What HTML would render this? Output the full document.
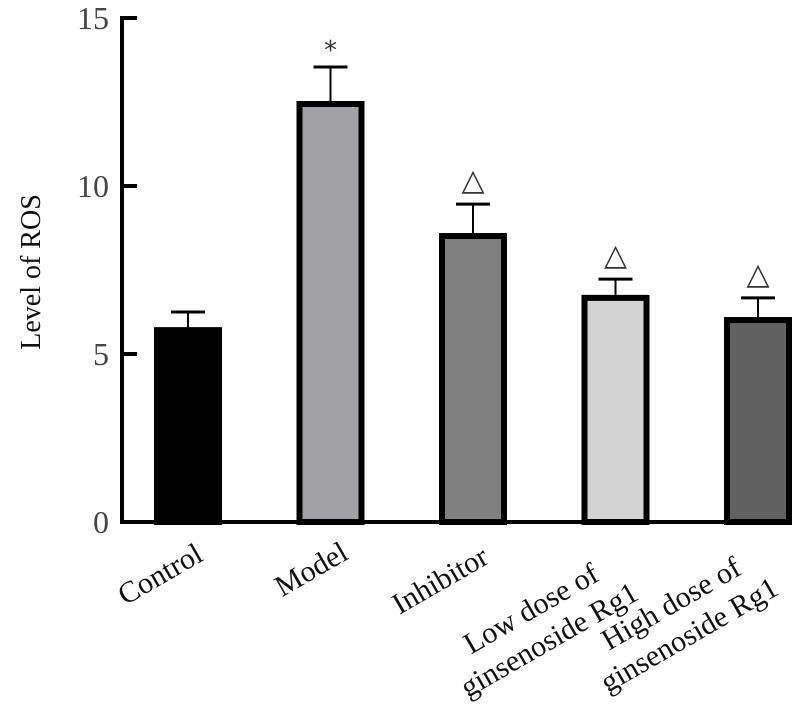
<!DOCTYPE html>
<html><head><meta charset="utf-8"><style>
html,body{margin:0;padding:0;background:#fff;}
svg{display:block;font-family:"Liberation Serif",serif;}
</style></head><body>
<svg id="chart" width="802" height="716" viewBox="0 0 802 716"></svg>
<script>
const categories=["Control","Model","Inhibitor","Low dose of|ginsenoside Rg1","High dose of|ginsenoside Rg1"];
const values=[5.8,12.53,8.6,6.76,6.1];
const errors=[6.25,13.54,9.46,7.23,6.67];
const marks=["","*","△","△","△"];
const fills=["#000000","#a2a1a6","#808080","#d3d3d3","#616161"];
const yTicks=[0,5,10,15];
const labelCenters=[[160,574],[311,569],[440,580],[540,624],[680,619]];

const svg=document.getElementById('chart');
const NS="http://www.w3.org/2000/svg";
const y0=522, pxPerUnit=33.6;
const y=v=>y0-v*pxPerUnit;
const xc=i=>188+i*142.5;
const barW=62;
function mk(t,a,p){const e=document.createElementNS(NS,t);for(const k in a)e.setAttribute(k,a[k]);(p||svg).appendChild(e);return e;}

categories.forEach((c,i)=>{
  const cx=xc(i);
  const eb=mk('line',{x1:cx,x2:cx,y1:y(values[i]),y2:y(errors[i]),stroke:'#000','stroke-width':2});
  
  
  const cap=mk('line',{x1:cx-17,x2:cx+17,y1:y(errors[i]),y2:y(errors[i]),stroke:'#000','stroke-width':3});
  
  
  const r=mk('rect',{x:cx-barW/2,y:y(values[i])+3,width:barW,height:y0-y(values[i])-3,fill:fills[i],stroke:'#000','stroke-width':6});
  
  
  if(marks[i]){
    const star=marks[i]==='*';
    const m=mk('text',{x:cx,y:y(errors[i])-(star?8:14),'text-anchor':'middle','font-size':star?26:30,fill:'#333','font-family':'DejaVu Sans,sans-serif'});
    m.textContent=marks[i];
    
    
  }
  const [lx,ly]=labelCenters[i];
  const g=mk('g',{transform:`translate(${lx},${ly}) rotate(-30)`});
  
  
  const lines=c.split('|');
  lines.forEach((ln,j)=>{
    const t=mk('text',{x:0,y:(j-(lines.length-1)/2)*36+10,'text-anchor':'middle','font-size':30,fill:'#111'},g);
    t.textContent=ln;
  });
});

const ax=mk('path',{d:`M137 ${y(15)} H122 V${y0} H792`,fill:'none',stroke:'#000','stroke-width':4});


yTicks.forEach(v=>{
  const tk=mk('line',{x1:122,x2:137,y1:y(v),y2:y(v),stroke:'#000','stroke-width':4});
  
  
  const t=mk('text',{x:109,y:y(v)+11,'text-anchor':'end','font-size':32,fill:'#444'});
  t.textContent=v;
  
  
});
const yt=mk('text',{x:0,y:0,transform:'translate(40,272) rotate(-90)','text-anchor':'middle','font-size':28,fill:'#111'});
yt.textContent='Level of ROS';


</script>
</body></html>
